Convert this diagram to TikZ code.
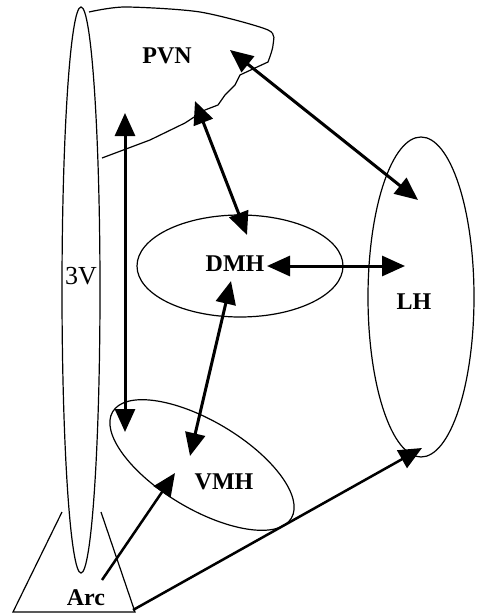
\documentclass[tikz,border=0pt]{standalone}
\usepackage{fontspec}
\setmainfont{Liberation Serif}
\usetikzlibrary{arrows.meta}

\begin{document}
\begin{tikzpicture}[x=1pt, y=1pt,
  region/.style={line width=1.2pt},
  link/.style={line width=3pt, {Triangle[length=23pt,width=20pt]}-{Triangle[length=23pt,width=20pt]}},
  feed/.style={line width=2.5pt, -{Triangle[length=23pt,width=20pt]}},
  lbl/.style={font=\bfseries\fontsize{24}{24}\selectfont}]
\useasboundingbox (0,0) rectangle (476,-615);
% --- regioni ---
\draw[region] (81,-290) ellipse [x radius=19, y radius=283];
\draw[region] plot[smooth, tension=0.45] coordinates {(89,-12) (125,-7) (200,-12) (268,-30) (273,-45) (268,-62)}
  -- (255,-68) -- (240,-75) -- (235,-85) -- (225,-95) -- (218,-105) -- (205,-110) -- (185,-123) -- (150,-140) -- (102,-158);
\draw[region] (240,-266) ellipse [x radius=103, y radius=51];
\draw[region] (421,-297) ellipse [x radius=53, y radius=160];
\draw[region, rotate around={-30.8:(202,-465)}] (202,-465) ellipse [x radius=104, y radius=44];
\draw[region] (62,-512) -- (13,-612) -- (135,-612) -- (101,-512);
% --- etichette ---
\node[lbl] (pvn) at (167,-56) {PVN};
\node[font=\fontsize{26}{26}\selectfont] (tv) at (81,-276) {3V};
\node[lbl] (dmh) at (235,-264) {DMH};
\node[lbl] (lh) at (414,-302) {LH};
\node[lbl] (vmh) at (224,-482) {VMH};
\node[lbl] (arc) at (86,-598) {Arc};
% --- estremi delle frecce ---
\coordinate (pvnV) at (125,-113);
\coordinate (vmhV) at (125,-432);
\coordinate (pvnD) at (195,-101);
\coordinate (dmhP) at (247,-235);
\coordinate (pvnL) at (230,-50);
\coordinate (lhP) at (418,-200);
\coordinate (dmhL) at (267,-266);
\coordinate (lhD) at (405,-266);
\coordinate (dmhV) at (231,-281);
\coordinate (vmhD) at (190,-456);
\coordinate (arcV) at (102,-580);
\coordinate (vmhA) at (175,-473);
\coordinate (arcL) at (133,-610);
\coordinate (lhA) at (422,-448);
% --- connessioni ---
\draw[link] (pvnV) -- (vmhV);
\draw[link] (pvnD) -- (dmhP);
\draw[link] (pvnL) -- (lhP);
\draw[link] (dmhL) -- (lhD);
\draw[link] (dmhV) -- (vmhD);
\draw[feed] (arcV) -- (vmhA);
\draw[feed] (arcL) -- (lhA);
\end{tikzpicture}
\end{document}
